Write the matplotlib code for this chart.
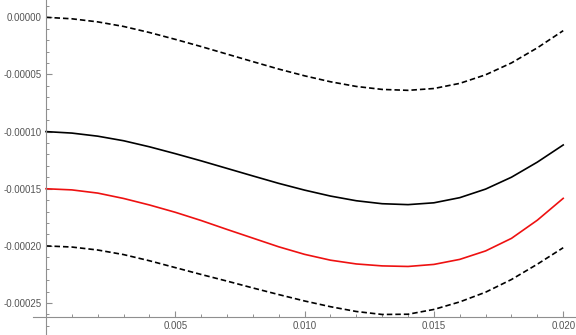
import matplotlib
matplotlib.use("Agg")
import matplotlib.pyplot as plt
from matplotlib.ticker import FixedLocator, MultipleLocator, FuncFormatter

plt.rcParams['font.family'] = ['Liberation Sans', 'DejaVu Sans']

# ---- data ----
x = [0.000, 0.001, 0.002, 0.003, 0.004, 0.005, 0.006, 0.007, 0.008, 0.009, 0.010,
     0.011, 0.012, 0.013, 0.014, 0.015, 0.016, 0.017, 0.018, 0.019, 0.020]

upper_dashed = [0.0, -1.3e-6, -4.0e-6, -8.0e-6, -13.3e-6, -19.3e-6, -25.6e-6, -32.2e-6,
                -38.8e-6, -45.3e-6, -51.2e-6, -56.4e-6, -60.5e-6, -63.1e-6, -63.9e-6,
                -62.3e-6, -57.8e-6, -50.3e-6, -39.9e-6, -26.7e-6, -11.7e-6]

black_solid = [-100.0e-6, -101.3e-6, -104.0e-6, -108.0e-6, -113.3e-6, -119.3e-6, -125.6e-6,
               -132.2e-6, -138.8e-6, -145.3e-6, -151.2e-6, -156.4e-6, -160.5e-6, -163.1e-6,
               -163.9e-6, -162.3e-6, -157.8e-6, -150.3e-6, -139.9e-6, -126.7e-6, -111.7e-6]

red_solid = [-150.0e-6, -151.0e-6, -153.8e-6, -158.5e-6, -164.2e-6, -170.6e-6, -177.8e-6,
             -185.6e-6, -193.2e-6, -200.8e-6, -207.4e-6, -212.5e-6, -215.8e-6, -217.5e-6,
             -218.0e-6, -216.2e-6, -211.8e-6, -204.4e-6, -193.4e-6, -177.5e-6, -158.4e-6]

lower_dashed = [-200.0e-6, -201.0e-6, -203.6e-6, -207.6e-6, -213.0e-6, -219.0e-6, -225.0e-6,
                -230.8e-6, -236.8e-6, -242.6e-6, -248.2e-6, -253.2e-6, -257.4e-6, -260.0e-6,
                -259.8e-6, -255.6e-6, -249.0e-6, -240.5e-6, -229.4e-6, -216.0e-6, -201.6e-6]

xticks = [0.005, 0.010, 0.015, 0.020]
xtick_labels = ["0.005", "0.010", "0.015", "0.020"]
yticks = [0.0, -0.00005, -0.00010, -0.00015, -0.00020, -0.00025]
ytick_labels = ["0.00000", "-0.00005", "-0.00010", "-0.00015", "-0.00020", "-0.00025"]

# ---- figure ----
fig = plt.figure(figsize=(5.76, 3.35), dpi=100)
ax = fig.add_axes([33 / 576, 0.0, 1 - 33 / 576, 1.0])
ax.set_facecolor("white")

lw = 1.2
ax.plot(x, upper_dashed, color="black", lw=lw, dashes=(3.3, 1.8), solid_joinstyle="round")
ax.plot(x, black_solid, color="black", lw=lw, solid_joinstyle="round")
ax.plot(x, red_solid, color="#ee1111", lw=lw, solid_joinstyle="round")
ax.plot(x, lower_dashed, color="black", lw=lw, dashes=(3.3, 1.8), solid_joinstyle="round")

ax.set_xlim(-0.000503, 0.020495)
ax.set_ylim(-2.7796e-4, 1.514e-5)

axis_col = "#8f8f8f"
text_col = "#555555"
for s in ["top", "right"]:
    ax.spines[s].set_visible(False)
ax.spines["left"].set_position(("data", 0.0))
ax.spines["bottom"].set_position(("data", -2.6247e-4))
for s in ["left", "bottom"]:
    ax.spines[s].set_color(axis_col)
    ax.spines[s].set_linewidth(0.8)


def xfmt(v, p):
    i = min(range(len(xticks)), key=lambda k: abs(xticks[k] - v))
    return xtick_labels[i]


def yfmt(v, p):
    i = min(range(len(yticks)), key=lambda k: abs(yticks[k] - v))
    return ytick_labels[i]


ax.xaxis.set_major_locator(FixedLocator(xticks))
ax.xaxis.set_major_formatter(FuncFormatter(xfmt))
ax.xaxis.set_minor_locator(MultipleLocator(0.001))
ax.yaxis.set_major_locator(FixedLocator(yticks))
ax.yaxis.set_major_formatter(FuncFormatter(yfmt))
ax.yaxis.set_minor_locator(MultipleLocator(0.00001))

ax.tick_params(axis="both", which="major", direction="in", length=4.5, width=0.8,
               color=axis_col, labelcolor=text_col, labelsize=7.0, pad=3)
ax.tick_params(axis="both", which="minor", direction="in", length=2.5, width=0.7,
               color=axis_col)

fig.savefig("out.png", dpi=100, facecolor="white")
